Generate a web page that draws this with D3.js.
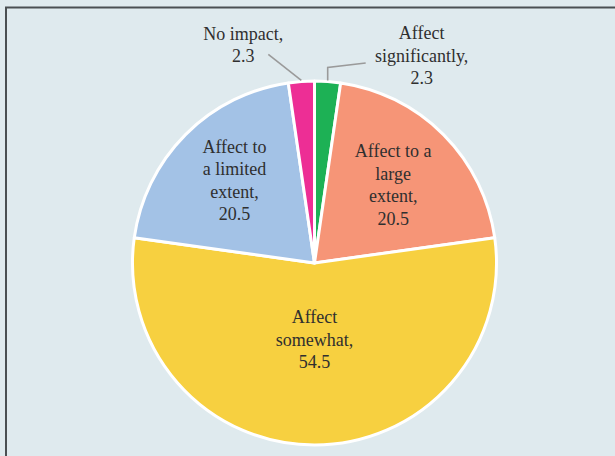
<!DOCTYPE html>
<html>
<head>
<meta charset="utf-8">
<script src="https://cdn.jsdelivr.net/npm/d3@7"></script>
<style>
  html, body { margin: 0; padding: 0; background: #dfeaee; }
  svg { display: block; }
</style>
</head>
<body>
<svg id="chart" width="615" height="456"></svg>
<script>
// Data (clockwise from 12 o'clock)
const categories = [
  "Affect significantly",
  "Affect to a large extent",
  "Affect somewhat",
  "Affect to a limited extent",
  "No impact"
];
const values = [2.3, 20.5, 54.5, 20.5, 2.3];
const colors = ["#1db155", "#f69577", "#f7d040", "#a3c2e6", "#ed2e95"];
const labelLines = [
  ["Affect", "significantly,", "2.3"],
  ["Affect to a", "large", "extent,", "20.5"],
  ["Affect", "somewhat,", "54.5"],
  ["Affect to", "a limited", "extent,", "20.5"],
  ["No impact,", "2.3"]
];

const W = 615, H = 456;
const cx = 314.5, cy = 263, R = 182;
const svg = d3.select("#chart");

// frame
svg.append("path")
  .attr("d", `M6,${H + 5} L6,7.5 L${W + 5},7.5`)
  .attr("fill", "none")
  .attr("stroke", "#4a4f52")
  .attr("stroke-width", 2);

const data = categories.map((c, i) => ({ cat: c, value: values[i], color: colors[i], lines: labelLines[i] }));
const pie = d3.pie().sort(null).value(d => d.value).startAngle(0).endAngle(2 * Math.PI);
const arcs = pie(data);
const arc = d3.arc().innerRadius(0).outerRadius(R);

const g = svg.append("g").attr("transform", `translate(${cx},${cy})`);
g.selectAll("path.slice")
  .data(arcs)
  .enter().append("path")
  .attr("class", "slice")
  .attr("d", arc)
  .attr("fill", d => d.data.color)
  .attr("stroke", "#ffffff")
  .attr("stroke-width", 3)
  .attr("stroke-linejoin", "round");

const lineH = 22.5;
const fontFamily = "'Liberation Serif', 'Times New Roman', serif";

function drawLabel(lines, x, y) {
  const t = g.append("text")
    .attr("text-anchor", "middle")
    .attr("font-family", fontFamily)
    .attr("font-size", 18)
    .attr("fill", "#2f2f2f");
  const n = lines.length;
  lines.forEach((l, i) => {
    t.append("tspan")
      .attr("x", x)
      .attr("y", y + (i - (n - 1) / 2) * lineH)
      .attr("dy", "0.35em")
      .text(l);
  });
}

// inside labels
const insideK = { 1: 0.61, 2: 0.42, 3: 0.62 };
arcs.forEach((a, i) => {
  if (insideK[i] !== undefined) {
    const k = insideK[i] * R;
    const c = d3.arc().innerRadius(k).outerRadius(k).centroid(a);
    drawLabel(a.data.lines, c[0], c[1] + (i === 3 ? -3 : 0));
  }
});

// outside labels with leader lines
const edge = d3.arc().innerRadius(R + 1).outerRadius(R + 1);
const leader = d3.line();
// Affect significantly
{
  const a = arcs[0];
  const p = edge.centroid(a);
  const pts = [p, [p[0], p[1] - 13], [p[0] + 38, p[1] - 17.5]];
  g.append("path").attr("d", leader(pts)).attr("fill", "none")
    .attr("stroke", "#9a9a9a").attr("stroke-width", 1.6);
  drawLabel(a.data.lines, p[0] + 94, p[1] - 25);
}
// No impact
{
  const a = arcs[4];
  const p = edge.centroid(a);
  const pts = [p, [p[0] - 33, p[1] - 26]];
  g.append("path").attr("d", leader(pts)).attr("fill", "none")
    .attr("stroke", "#9a9a9a").attr("stroke-width", 1.6);
  drawLabel(a.data.lines, p[0] - 58, p[1] - 36);
}
</script>
</body>
</html>
